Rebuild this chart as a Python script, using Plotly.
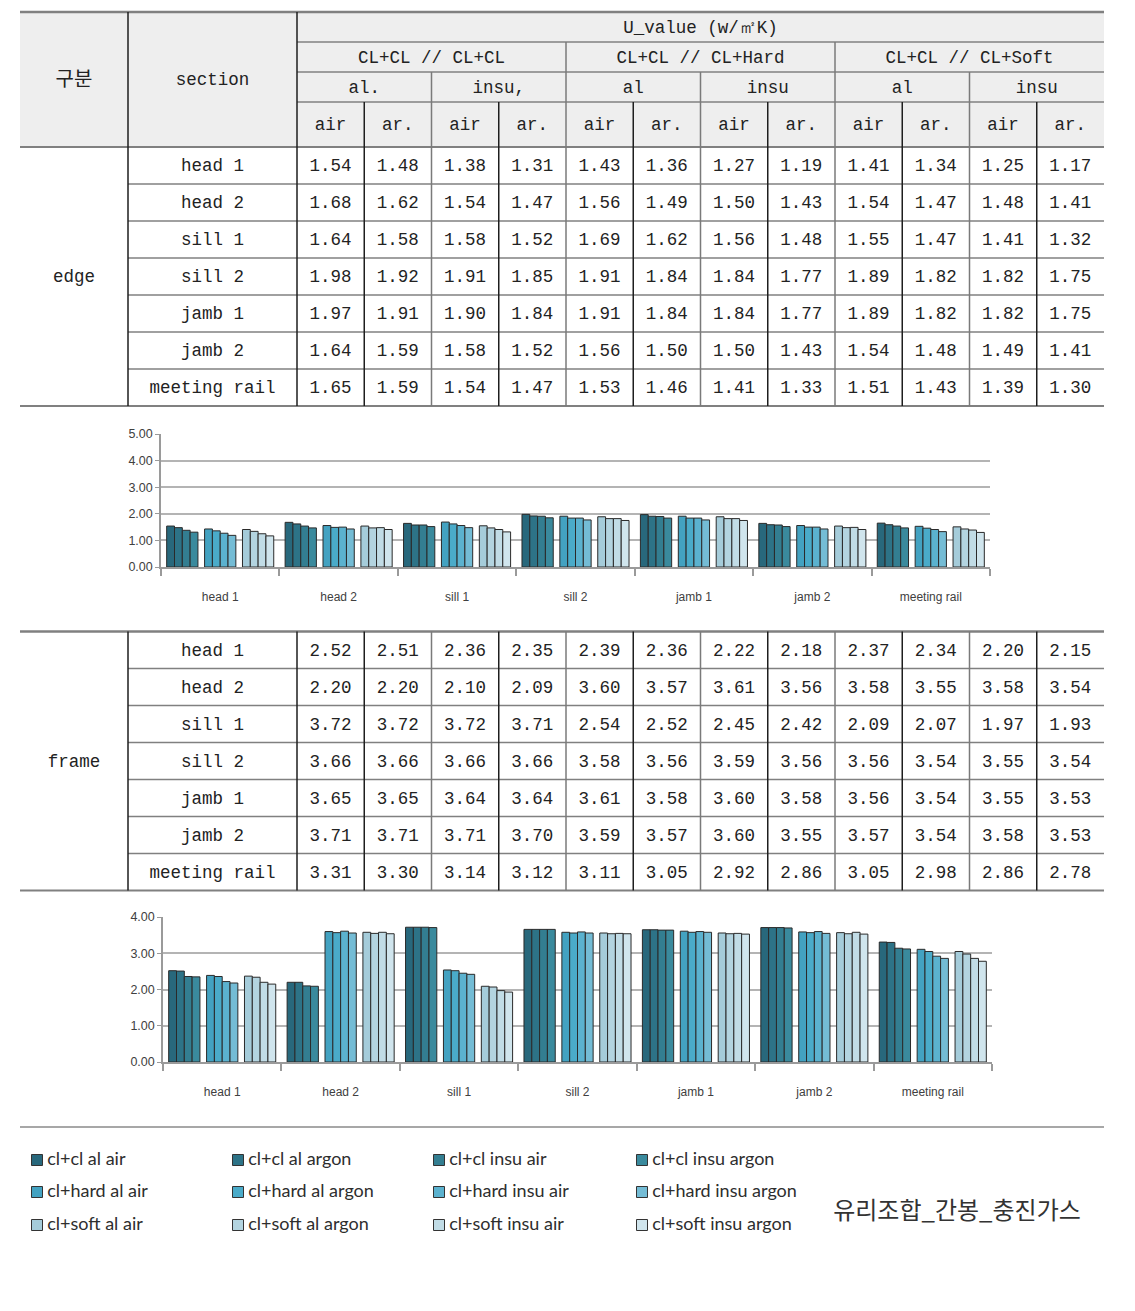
import plotly.graph_objects as go

# ---------------- data ----------------
sections = ["head 1", "head 2", "sill 1", "sill 2", "jamb 1", "jamb 2", "meeting rail"]
series_names = [
    "cl+cl al air", "cl+cl al argon", "cl+cl insu air", "cl+cl insu argon",
    "cl+hard al air", "cl+hard al argon", "cl+hard insu air", "cl+hard insu argon",
    "cl+soft al air", "cl+soft al argon", "cl+soft insu air", "cl+soft insu argon",
]
series_colors = [
    "#28687c", "#2d7387", "#337e91", "#3a8a9d",
    "#43a2c1", "#4aabc9", "#5bb2cf", "#74bcd5",
    "#a5ccda", "#b3d4e0", "#c1dce6", "#d0e5ed",
]
edge_values = [
    [1.54, 1.48, 1.38, 1.31, 1.43, 1.36, 1.27, 1.19, 1.41, 1.34, 1.25, 1.17],
    [1.68, 1.62, 1.54, 1.47, 1.56, 1.49, 1.50, 1.43, 1.54, 1.47, 1.48, 1.41],
    [1.64, 1.58, 1.58, 1.52, 1.69, 1.62, 1.56, 1.48, 1.55, 1.47, 1.41, 1.32],
    [1.98, 1.92, 1.91, 1.85, 1.91, 1.84, 1.84, 1.77, 1.89, 1.82, 1.82, 1.75],
    [1.97, 1.91, 1.90, 1.84, 1.91, 1.84, 1.84, 1.77, 1.89, 1.82, 1.82, 1.75],
    [1.64, 1.59, 1.58, 1.52, 1.56, 1.50, 1.50, 1.43, 1.54, 1.48, 1.49, 1.41],
    [1.65, 1.59, 1.54, 1.47, 1.53, 1.46, 1.41, 1.33, 1.51, 1.43, 1.39, 1.30],
]
frame_values = [
    [2.52, 2.51, 2.36, 2.35, 2.39, 2.36, 2.22, 2.18, 2.37, 2.34, 2.20, 2.15],
    [2.20, 2.20, 2.10, 2.09, 3.60, 3.57, 3.61, 3.56, 3.58, 3.55, 3.58, 3.54],
    [3.72, 3.72, 3.72, 3.71, 2.54, 2.52, 2.45, 2.42, 2.09, 2.07, 1.97, 1.93],
    [3.66, 3.66, 3.66, 3.66, 3.58, 3.56, 3.59, 3.56, 3.56, 3.54, 3.55, 3.54],
    [3.65, 3.65, 3.64, 3.64, 3.61, 3.58, 3.60, 3.58, 3.56, 3.54, 3.55, 3.53],
    [3.71, 3.71, 3.71, 3.70, 3.59, 3.57, 3.60, 3.55, 3.57, 3.54, 3.58, 3.53],
    [3.31, 3.30, 3.14, 3.12, 3.11, 3.05, 2.92, 2.86, 3.05, 2.98, 2.86, 2.78],
]
header_title = "U_value (w/㎡K)"
glass_groups = ["CL+CL // CL+CL", "CL+CL // CL+Hard", "CL+CL // CL+Soft"]
spacer_labels = ["al.", "insu,", "al", "insu", "al", "insu"]
gas_labels = ["air", "ar."] * 6
corner_label = "구분"
section_label = "section"
part_labels = ["edge", "frame"]
edge_ticks = [0, 1, 2, 3, 4, 5]
frame_ticks = [0, 1, 2, 3, 4]
caption = "유리조합_간봉_충진가스"

# ---------------- layout constants (pixels) ----------------
W, H = 1135, 1311
TL, TR = 20, 1104
C1, C2 = 128, 297
col_edges = [C2 + i * (TR - C2) / 12 for i in range(13)]
col_centers = [(col_edges[i] + col_edges[i + 1]) / 2 for i in range(12)]
HEAD = [12, 42, 72, 102, 147]
ROW_H = 37
T1_TOP = 147
T2_TOP = 631.5
TXT_DY = 1.5
MONO = "Liberation Mono, DejaVu Sans Mono, monospace"
NARROW = "Liberation Sans Narrow, Liberation Sans, sans-serif"
LEG = "Lato, Liberation Sans, sans-serif"
KR = "Noto Sans CJK KR, sans-serif"
GRAY = "#7a7a7a"
DARK = "#1e1e1e"

fig = go.Figure()

# ---------------- bar charts ----------------
BW, GAP = 0.066, 0.056
offsets = []
for i in range(12):
    c, k = divmod(i, 4)
    offsets.append(-0.452 + c * (4 * BW + GAP) + k * BW)

for (vals, xa, ya) in [(edge_values, "x", "y"), (frame_values, "x2", "y2")]:
    for i, name in enumerate(series_names):
        fig.add_trace(go.Bar(
            x=sections, y=[row[i] for row in vals], name=name,
            width=BW, offset=offsets[i],
            marker=dict(color=series_colors[i], line=dict(color="#2a2a2a", width=1)),
            xaxis=xa, yaxis=ya, showlegend=False, hoverinfo="x+y+name",
        ))

# ---------------- overlay (pixel) axis for tables & legend ----------------
shapes = []


def hline(y, x0, x1, color=GRAY, width=1.5):
    shapes.append(dict(type="line", xref="x3", yref="y3", x0=x0, x1=x1, y0=y, y1=y,
                       line=dict(color=color, width=width)))


def vline(x, y0, y1, color=GRAY, width=1.5):
    shapes.append(dict(type="line", xref="x3", yref="y3", x0=x, x1=x, y0=y0, y1=y1,
                       line=dict(color=color, width=width)))


# header background
shapes.append(dict(type="rect", xref="x3", yref="y3", x0=TL, x1=TR, y0=HEAD[0], y1=HEAD[-1],
                   fillcolor="#eeeeee", line=dict(width=0), layer="below"))


def table_lines(top, with_header):
    nrows = len(sections)
    bottom = top + nrows * ROW_H
    start = HEAD[0] if with_header else top
    hline(start, TL, TR, "#808080", 2.5)
    if with_header:
        for y in HEAD[1:4]:
            hline(y, C2, TR, "#808080", 1.5)
        hline(HEAD[4], TL, TR, "#808080", 2)
    for r in range(1, nrows):
        hline(top + r * ROW_H, C1, TR, "#808080", 1.5)
    hline(bottom, TL, TR, "#808080", 2)
    vline(C1, start, bottom, DARK, 1.5)
    vline(C2, start, bottom, DARK, 1.5)
    for i in range(1, 12):
        x = col_edges[i]
        if i % 2 == 1:
            y0 = HEAD[3] if with_header else top
            vline(x, y0, bottom, DARK, 1.5)
        elif i % 4 == 0:
            y0 = HEAD[1] if with_header else top
            vline(x, y0, bottom, GRAY, 1.5)
        else:
            y0 = HEAD[2] if with_header else top
            vline(x, y0, bottom, GRAY, 1.5)


table_lines(T1_TOP, True)
table_lines(T2_TOP, False)
hline(1127, TL, TR, "#8a8a8a", 1.5)

# table texts
tx, ty, tt = [], [], []
tx.append((C2 + TR) / 2); ty.append((HEAD[0] + HEAD[1]) / 2); tt.append(header_title)
for g, lab in enumerate(glass_groups):
    tx.append((col_edges[4 * g] + col_edges[4 * g + 4]) / 2); ty.append((HEAD[1] + HEAD[2]) / 2); tt.append(lab)
for s, lab in enumerate(spacer_labels):
    tx.append((col_edges[2 * s] + col_edges[2 * s + 2]) / 2); ty.append((HEAD[2] + HEAD[3]) / 2); tt.append(lab)
for c, lab in enumerate(gas_labels):
    tx.append(col_centers[c]); ty.append((HEAD[3] + HEAD[4]) / 2); tt.append(lab)
tx.append((C1 + C2) / 2); ty.append((HEAD[0] + HEAD[4]) / 2); tt.append(section_label)

for top, vals, part in [(T1_TOP, edge_values, part_labels[0]), (T2_TOP, frame_values, part_labels[1])]:
    tx.append((TL + C1) / 2); ty.append(top + len(sections) * ROW_H / 2); tt.append(part)
    for r, sec in enumerate(sections):
        yc = top + (r + 0.5) * ROW_H
        tx.append((C1 + C2) / 2); ty.append(yc); tt.append(sec)
        for c in range(12):
            tx.append(col_centers[c]); ty.append(yc); tt.append(f"{vals[r][c]:.2f}")
ty = [y + TXT_DY for y in ty]

fig.add_trace(go.Scatter(x=tx, y=ty, text=tt, mode="text", textposition="middle center",
                         textfont=dict(family=MONO, size=17.5, color="#222222"),
                         xaxis="x3", yaxis="y3", showlegend=False, hoverinfo="skip",
                         cliponaxis=False))
fig.add_trace(go.Scatter(x=[(TL + C1) / 2], y=[(HEAD[0] + HEAD[4]) / 2 + TXT_DY], text=[corner_label],
                         mode="text", textposition="middle center",
                         textfont=dict(family=KR, size=20, color="#222222"),
                         xaxis="x3", yaxis="y3", showlegend=False, hoverinfo="skip",
                         cliponaxis=False))

# custom legend
leg_x = [37, 238, 439, 642]
leg_y = [1160, 1192, 1225]
lx, ly = [], []
for i in range(12):
    r, c = divmod(i, 4)
    lx.append(leg_x[c]); ly.append(leg_y[r])
fig.add_trace(go.Scatter(x=lx, y=ly, text=series_names, mode="markers+text",
                         texttemplate="\u2009%{text}",
                         textposition="middle right",
                         marker=dict(symbol="square", size=11, color=series_colors,
                                     line=dict(color="#333333", width=1)),
                         textfont=dict(family=LEG, size=18, color="#2e2e2e"),
                         xaxis="x3", yaxis="y3", showlegend=False, hoverinfo="skip",
                         cliponaxis=False))
fig.add_trace(go.Scatter(x=[957], y=[1213], text=[caption], mode="text",
                         textposition="middle center",
                         textfont=dict(family=KR, size=24, color="#333333"),
                         xaxis="x3", yaxis="y3", showlegend=False, hoverinfo="skip",
                         cliponaxis=False))

axis_common = dict(showline=True, linecolor="#9a9a9a", linewidth=1.5, fixedrange=True,
                   automargin=False)
cat_axis = dict(axis_common, type="category", ticks="outside", tickson="boundaries", ticklen=7,
                tickcolor="#9a9a9a", tickwidth=1.5, showgrid=False,
                tickfont=dict(family=NARROW, size=12, color="#404040"), ticklabelstandoff=18)
val_axis = dict(axis_common, tickformat=".2f", showgrid=True, gridcolor="#b4b4b4", gridwidth=1.5,
                ticks="outside", ticklen=4, tickcolor="#9a9a9a", zeroline=False,
                tickfont=dict(family=NARROW, size=12.5, color="#404040"))

fig.update_layout(
    template="none",
    width=W, height=H, autosize=False,
    margin=dict(l=0, r=0, t=0, b=0, pad=0),
    paper_bgcolor="white", plot_bgcolor="rgba(0,0,0,0)",
    barmode="overlay", showlegend=False,
    xaxis=dict(cat_axis, domain=[161 / W, 990 / W], anchor="y"),
    yaxis=dict(val_axis, domain=[1 - 567 / H, 1 - 434 / H], anchor="x", range=[0, 5.002],
               tickvals=edge_ticks),
    xaxis2=dict(cat_axis, domain=[163 / W, 992 / W], anchor="y2"),
    yaxis2=dict(val_axis, domain=[1 - 1062 / H, 1 - 917 / H], anchor="x2", range=[0, 4.002],
                tickvals=frame_ticks),
    xaxis3=dict(domain=[0, 1], range=[0, W], visible=False, fixedrange=True, anchor="y3",
                automargin=False),
    yaxis3=dict(domain=[0, 1], range=[H, 0], visible=False, fixedrange=True, anchor="x3",
                automargin=False),
    shapes=shapes,
)

fig.write_html("out.html", config={"displayModeBar": False},
               post_script="document.body.style.margin='0px';")
